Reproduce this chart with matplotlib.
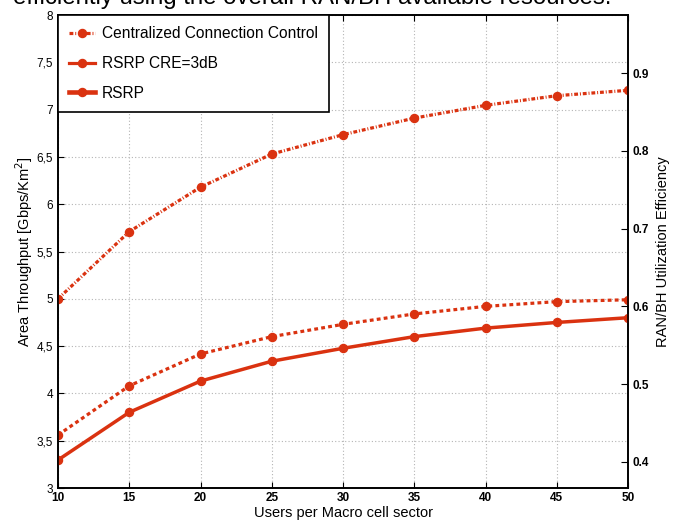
import numpy as np
import matplotlib
matplotlib.use('Agg')
import matplotlib.pyplot as plt
from matplotlib.lines import Line2D
from matplotlib.ticker import FuncFormatter, MultipleLocator

plt.rcParams['font.family'] = ['Liberation Sans', 'DejaVu Sans']

# data
users = [10, 15, 20, 25, 30, 35, 40, 45, 50]
centralized = [5.00, 5.71, 6.18, 6.53, 6.735, 6.91, 7.045, 7.147, 7.204]
rsrp_cre = [3.56, 4.08, 4.417, 4.60, 4.73, 4.84, 4.92, 4.97, 4.99]
rsrp = [3.296, 3.80, 4.13, 4.34, 4.477, 4.60, 4.69, 4.75, 4.80]

left_ylim = (3, 8)
right_ylim = (0.3665, 0.9746)
right_ticks = [0.4, 0.5, 0.6, 0.7, 0.8, 0.9]

red = '#DA3210'

fig = plt.figure(figsize=(6.79, 5.22), dpi=100)
ax = fig.add_axes([58 / 679, 34 / 522, 570 / 679, 473 / 522])

ax.plot(users, centralized, color=red, lw=2.3, dashes=(1.2, 0.6, 0.3, 0.6),
        marker='o', ms=5.8, zorder=3)
ax.plot(users, rsrp_cre, color=red, lw=2.3, dashes=(1.2, 1.0),
        marker='o', ms=5.8, zorder=3)
ax.plot(users, rsrp, color=red, lw=2.5, ls='-',
        marker='o', ms=5.8, zorder=3)

ax.set_xlim(10, 50)
ax.set_ylim(*left_ylim)
ax.xaxis.set_major_locator(MultipleLocator(5))
ax.yaxis.set_major_locator(MultipleLocator(0.5))
ax.yaxis.set_major_formatter(FuncFormatter(
    lambda v, p: ('%g' % v).replace('.', ',')))
ax.grid(True, color='#b4b4b4', lw=0.8, ls=(0, (1, 2)))
ax.tick_params(direction='in', length=4, labelsize=8.5, width=0.8,
               top=True, right=True)
ax.tick_params(axis='x', pad=3)
for lab in ax.get_xticklabels():
    lab.set_fontweight('bold')
for s in ax.spines.values():
    s.set_linewidth(1.2)

ax.set_xlabel('Users per Macro cell sector', fontsize=10.5, labelpad=1)
ax.set_ylabel('Area Throughput [Gbps/Km$^2$]', fontsize=10.5, labelpad=1)

ax2 = ax.twinx()
ax2.set_ylim(*right_ylim)
ax2.set_yticks(right_ticks)
ax2.set_yticklabels(['%g' % t for t in right_ticks], fontweight='bold')
ax2.tick_params(direction='in', length=5, labelsize=8.5, width=0.8, pad=3)
ax2.set_ylabel('RAN/BH Utilization Efficiency', fontsize=10.5, labelpad=5)
for s in ax2.spines.values():
    s.set_linewidth(1.2)

handles = [
    Line2D([], [], color=red, lw=2.3, dashes=(1.2, 0.6, 0.3, 0.6), marker='o', ms=5.8),
    Line2D([], [], color=red, lw=2.3, ls='-', marker='o', ms=5.8),
    Line2D([], [], color=red, lw=3.3, ls='-', marker='o', ms=5.8),
]
labels = ['Centralized Connection Control', 'RSRP CRE=3dB', 'RSRP']
leg = ax2.legend(handles, labels, loc='upper left', borderaxespad=0,
                 fontsize=11.2, fancybox=False, framealpha=1,
                 edgecolor='black', handlelength=1.65, handletextpad=0.45,
                 labelspacing=0.95, borderpad=0.72)
leg.get_frame().set_linewidth(1.2)

fig.text(13 / 679, 1 - 4 / 522, 'efficiently using the overall RAN/BH available resources.',
         fontsize=17.3, va='baseline', ha='left')

fig.savefig('out.png', dpi=100)
